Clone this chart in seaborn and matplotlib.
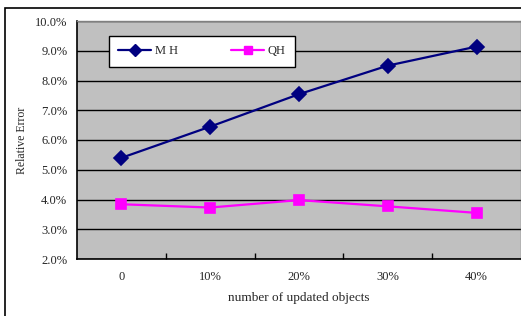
import matplotlib
matplotlib.use("Agg")
import matplotlib.pyplot as plt
import seaborn as sns
import pandas as pd
from matplotlib.lines import Line2D
from matplotlib.patches import Rectangle
from matplotlib.ticker import FuncFormatter, FixedLocator

# data
updated = ["0", "10%", "20%", "30%", "40%"]
mh_error = [5.40, 6.45, 7.54, 8.50, 9.14]
qh_error = [3.84, 3.73, 3.98, 3.77, 3.55]


def main():
    sns.set_style("white")
    plt.rcParams['font.family'] = ['Liberation Serif', 'DejaVu Serif']

    df = pd.DataFrame({
        "updated": updated * 2,
        "error": mh_error + qh_error,
        "method": ["MH"] * len(updated) + ["QH"] * len(updated),
    })

    colors = {"MH": "#000080", "QH": "#FF00FF"}

    fig = plt.figure(figsize=(5.21, 3.16), dpi=100)
    ax = fig.add_axes([77 / 521, 1 - 259 / 316, 444 / 521, 238 / 316])

    # outer chart frame
    fig.patches.append(Rectangle((5 / 521, -0.1), 1.2, 1 - 8 / 316 + 0.1,
                                 transform=fig.transFigure, fill=False,
                                 edgecolor="black", linewidth=1.2))

    sns.pointplot(data=df, x="updated", y="error", hue="method",
                  order=updated, palette=colors, markers=["D", "s"],
                  linestyles=["-", "-"], ax=ax, legend=False,
                  markersize=7, linewidth=1.6)

    ax.set_facecolor("#C0C0C0")
    ax.set_xlim(-0.5, 4.5)
    ax.set_ylim(2.0, 10.0)
    ax.set_yticks([2, 3, 4, 5, 6, 7, 8, 9, 10])
    ax.yaxis.set_major_formatter(FuncFormatter(lambda v, p: "%.1f%%" % v))
    ax.grid(axis="y", color="black", linewidth=1.0)
    ax.set_axisbelow(True)

    # category boundaries as inward ticks
    ax.xaxis.set_minor_locator(FixedLocator([0.5, 1.5, 2.5, 3.5]))
    ax.tick_params(axis="x", which="major", length=0, labelsize=9, pad=9)
    ax.tick_params(axis="x", which="minor", bottom=True, length=4,
                   direction="in", color="black", width=1)
    ax.tick_params(axis="y", length=0, labelsize=9, pad=7)

    for side in ["left", "bottom"]:
        ax.spines[side].set_color("black")
        ax.spines[side].set_linewidth(1.2)
    for side in ["top", "right"]:
        ax.spines[side].set_color("#808080")
        ax.spines[side].set_linewidth(1.0)

    ax.set_xlabel("number of updated objects", fontsize=9.5, labelpad=6)
    ax.set_ylabel("Relative Error", fontsize=8.5, labelpad=5)

    handles = [
        Line2D([], [], color=colors["MH"], marker="D", markersize=6, linewidth=1.6),
        Line2D([], [], color=colors["QH"], marker="s", markersize=6, linewidth=1.6),
    ]
    leg = ax.legend(handles, ["M H", "QH"], ncol=2, loc="upper left",
                    bbox_to_anchor=(0.072, 0.937), borderaxespad=0,
                    frameon=True, fancybox=False,
                    edgecolor="black", framealpha=1, fontsize=9,
                    handlelength=2.6, columnspacing=4.3, borderpad=0.75,
                    handletextpad=0.3)
    leg.get_frame().set_linewidth(1.0)

    fig.savefig("out.png", dpi=100)


if __name__ == '__main__':
    main()
